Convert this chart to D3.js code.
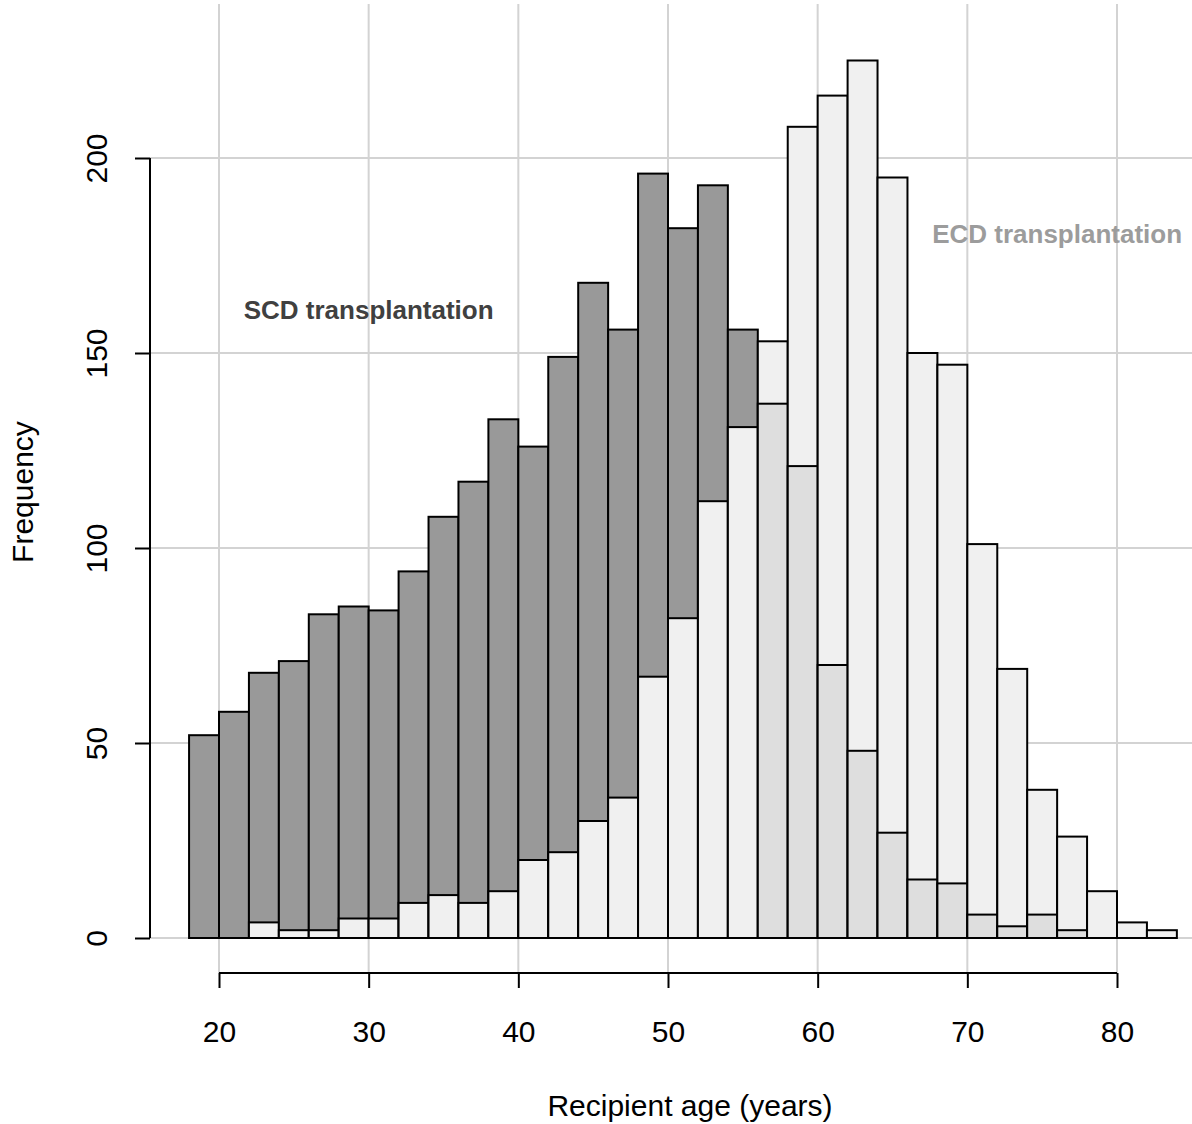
<!DOCTYPE html>
<html>
<head>
<meta charset="utf-8">
<script src="https://cdn.jsdelivr.net/npm/d3@7"></script>
<style>
  body { margin: 0; background: #fff; }
  text { font-family: "Liberation Sans", Arial, Helvetica, sans-serif; }
</style>
</head>
<body>
<div id="chart"></div>
<script>
// histogram breaks (2-year bins) and counts per bin
var breaks = [18, 20, 22, 24, 26, 28, 30, 32, 34, 36, 38, 40, 42, 44, 46, 48, 50,
              52, 54, 56, 58, 60, 62, 64, 66, 68, 70, 72, 74, 76, 78, 80, 82, 84];
var scdCounts = [52, 58, 68, 71, 83, 85, 84, 94, 108, 117, 133, 126, 149, 168, 156, 196, 182,
                 193, 156, 137, 121, 70, 48, 27, 15, 14, 6, 3, 6, 2, 0, 0, 0];
var ecdCounts = [0, 0, 4, 2, 2, 5, 5, 9, 11, 9, 12, 20, 22, 30, 36, 67, 82,
                 112, 131, 153, 208, 216, 225, 195, 150, 147, 101, 69, 38, 26, 12, 4, 2];
var xTicks = [20, 30, 40, 50, 60, 70, 80];
var yTicks = [0, 50, 100, 150, 200];
var groupLabels = ["SCD transplantation", "ECD transplantation"];
var labelAt = [[30, 161], [76, 180.5]];

var W = 1192, H = 1124;

var svg = d3.select("#chart")
    .append("svg")
    .attr("width", W)
    .attr("height", H);

var x = d3.scaleLinear().domain([20, 80]).range([219, 1117]);
var y = d3.scaleLinear().domain([0, 200]).range([938, 158]);

var axisY = 973;   // x axis line
var axisX = 150;   // y axis line

// grid
var grid = svg.append("g").attr("stroke", "#d3d3d3").attr("stroke-width", 2);
grid.selectAll(".vg")
    .data(xTicks)
    .enter().append("line")
    .attr("x1", function (d) { return x(d); })
    .attr("x2", function (d) { return x(d); })
    .attr("y1", 4)
    .attr("y2", axisY);
grid.selectAll(".hg")
    .data(yTicks)
    .enter().append("line")
    .attr("x1", axisX)
    .attr("x2", W)
    .attr("y1", function (d) { return y(d); })
    .attr("y2", function (d) { return y(d); });

// build bins; in each bin the taller bar goes first, the shorter on top
var bins = [];
for (var i = 0; i < scdCounts.length; i++) {
    var s = { x0: breaks[i], x1: breaks[i + 1], n: scdCounts[i], kind: "scd" };
    var e = { x0: breaks[i], x1: breaks[i + 1], n: ecdCounts[i], kind: "ecd" };
    if (s.n >= e.n) {
        s.fill = "#999999"; e.fill = "#f0f0f0";
        bins.push(s, e);
    } else {
        e.fill = "#f0f0f0"; s.fill = "#dedede";
        bins.push(e, s);
    }
}

svg.append("g")
    .selectAll("rect")
    .data(bins.filter(function (d) { return d.n > 0; }))
    .enter().append("rect")
    .attr("x", function (d) { return x(d.x0); })
    .attr("width", function (d) { return x(d.x1) - x(d.x0); })
    .attr("y", function (d) { return y(d.n); })
    .attr("height", function (d) { return y(0) - y(d.n); })
    .attr("fill", function (d) { return d.fill; })
    .attr("stroke", "#000")
    .attr("stroke-width", 2);

// x axis
var gx = svg.append("g")
    .attr("transform", "translate(0," + axisY + ")")
    .call(d3.axisBottom(x).tickValues(xTicks).tickSize(15).tickSizeOuter(0).tickFormat(d3.format("d")));
gx.select(".domain").attr("d", "M" + x(20) + ",0H" + x(80));
gx.selectAll("path, line").attr("stroke", "#000").attr("stroke-width", 2);
gx.selectAll("text")
    .attr("y", 69)
    .attr("dy", 0)
    .attr("font-size", 30)
    .attr("fill", "#000")
    .style("font-family", "'Liberation Sans', Arial, sans-serif");

// y axis
var gy = svg.append("g")
    .attr("transform", "translate(" + axisX + ",0)")
    .call(d3.axisLeft(y).tickValues(yTicks).tickSize(15).tickSizeOuter(0).tickFormat(d3.format("d")));
gy.select(".domain").attr("d", "M0," + y(0) + "V" + y(200));
gy.selectAll("path, line").attr("stroke", "#000").attr("stroke-width", 2);
gy.selectAll("text")
    .attr("transform", "rotate(-90)")
    .attr("x", 0)
    .attr("y", -43)
    .attr("dy", 0)
    .attr("text-anchor", "middle")
    .attr("font-size", 30)
    .attr("fill", "#000")
    .style("font-family", "'Liberation Sans', Arial, sans-serif");

// axis titles
svg.append("text")
    .attr("x", 690)
    .attr("y", 1116)
    .attr("text-anchor", "middle")
    .attr("font-size", 30)
    .text("Recipient age (years)");

svg.append("text")
    .attr("transform", "translate(33,492) rotate(-90)")
    .attr("text-anchor", "middle")
    .attr("font-size", 30)
    .text("Frequency");

// group labels
var labelColors = ["#404040", "#9c9c9c"];
svg.selectAll(".glab")
    .data(groupLabels)
    .enter().append("text")
    .attr("x", function (d, i) { return x(labelAt[i][0]); })
    .attr("y", function (d, i) { return y(labelAt[i][1]); })
    .attr("dy", "0.35em")
    .attr("text-anchor", "middle")
    .attr("font-size", 26)
    .attr("font-weight", "bold")
    .attr("fill", function (d, i) { return labelColors[i]; })
    .text(function (d) { return d; });
</script>
</body>
</html>
